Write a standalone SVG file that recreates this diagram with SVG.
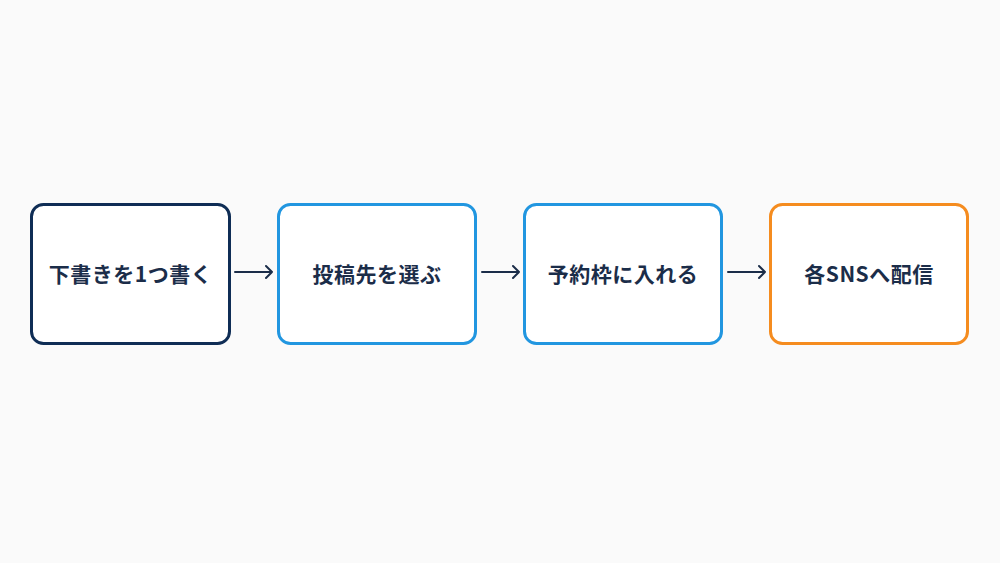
<svg xmlns="http://www.w3.org/2000/svg" width="1000" height="563" viewBox="0 0 1000 563">
<style>
.box{fill:#ffffff;stroke-width:3}
.t{font-family:"Noto Sans CJK JP","Noto Sans",sans-serif;font-weight:700;font-size:21px;letter-spacing:0.5px;fill:#1b2d49;text-anchor:middle;dominant-baseline:central}
.c{stroke:#1b2d49;stroke-width:2;fill:none;stroke-linecap:round;stroke-linejoin:round}
</style>
<rect width="1000" height="563" fill="#fafafa"/>
<g id="n1"><rect class="box" x="31.5" y="204.5" width="198" height="139" rx="12" stroke="#0f2d55"/><text class="t" x="130.5" y="273">下書きを1つ書く</text></g>
<g id="n2"><rect class="box" x="278.5" y="204.5" width="197" height="139" rx="12" stroke="#2196e0"/><text class="t" x="377" y="273">投稿先を選ぶ</text></g>
<g id="n3"><rect class="box" x="524.5" y="204.5" width="197" height="139" rx="12" stroke="#2196e0"/><text class="t" x="623" y="273">予約枠に入れる</text></g>
<g id="n4"><rect class="box" x="770.5" y="204.5" width="197" height="139" rx="12" stroke="#f58c1f"/><text class="t" x="869" y="273">各SNSへ配信</text></g>
<g id="connectors">
<path class="c" d="M235 272H272M266 266L272 272L266 278"/>
<path class="c" d="M482 272H519M513 266L519 272L513 278"/>
<path class="c" d="M728 272H765M759 266L765 272L759 278"/>
</g>
</svg>
